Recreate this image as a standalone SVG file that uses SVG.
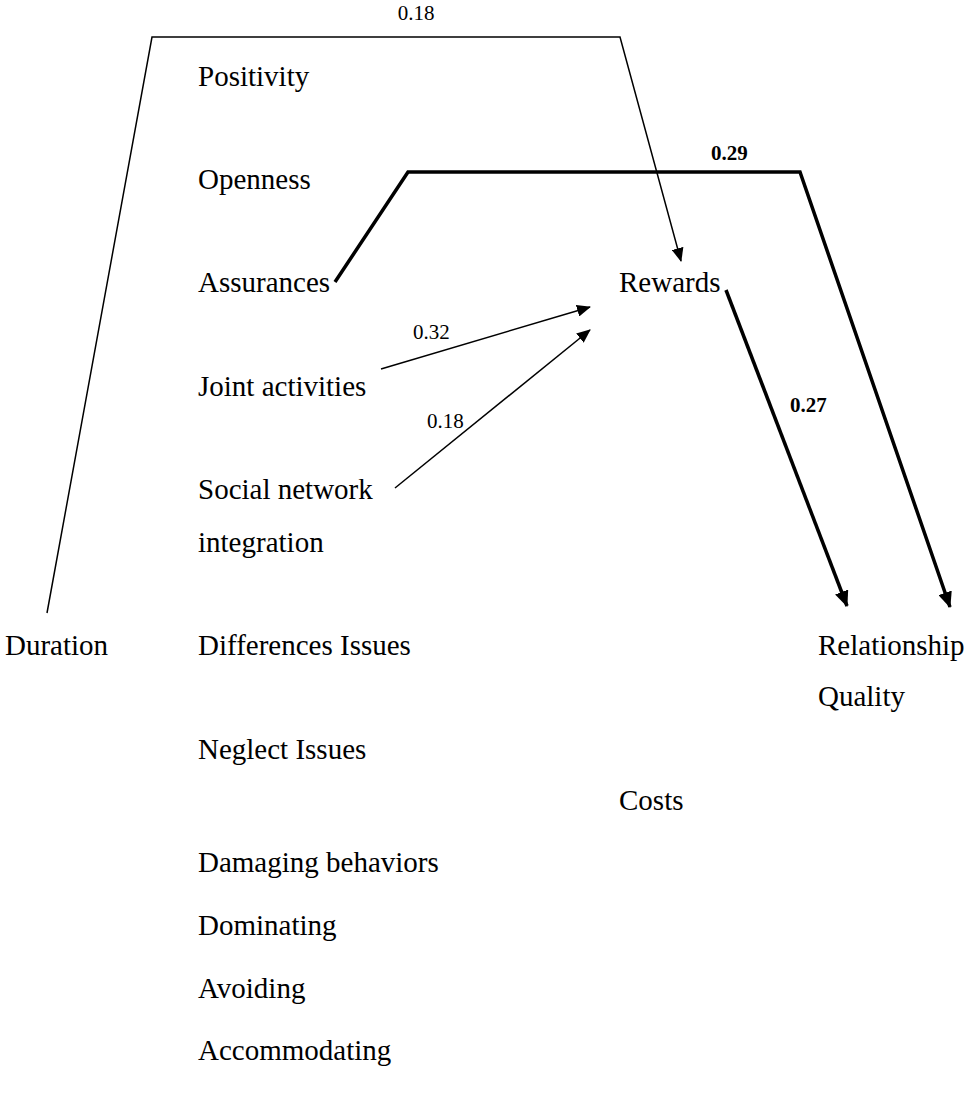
<svg xmlns="http://www.w3.org/2000/svg" width="964" height="1096" viewBox="0 0 964 1096">
<style>
.t{font-family:"Liberation Serif","Times New Roman",serif;font-size:29px;fill:#000}
.n{font-family:"Liberation Serif","Times New Roman",serif;font-size:21px;fill:#000}
.b{font-weight:bold}
.thin{fill:none;stroke:#000;stroke-width:1.5}
.thick{fill:none;stroke:#000;stroke-width:3.5}
</style>
<defs>
<marker id="ah" markerUnits="userSpaceOnUse" markerWidth="14" markerHeight="12" refX="13" refY="6" orient="auto">
<path d="M0,0 L14,6 L0,12 z" fill="#000"/>
</marker>
<marker id="ahb" markerUnits="userSpaceOnUse" markerWidth="16" markerHeight="14" refX="15" refY="7" orient="auto">
<path d="M0,0 L16,7 L0,14 z" fill="#000"/>
</marker>
</defs>
<rect width="964" height="1096" fill="#fff"/>
<g id="connectors">
<path class="thin" d="M47,613 L152,37 L620,37 L681,261" marker-end="url(#ah)"/>
<path class="thick" d="M335,282 L408,172 L800,172 L950,607" marker-end="url(#ahb)"/>
<path class="thick" d="M726,290 L847,606" marker-end="url(#ahb)"/>
<path class="thin" d="M381,369 L590,307" marker-end="url(#ah)"/>
<path class="thin" d="M395,488 L590,330" marker-end="url(#ah)"/>
<text class="n" x="416" y="20" text-anchor="middle">0.18</text>
<text class="n b" x="711" y="160">0.29</text>
<text class="n" x="413" y="339">0.32</text>
<text class="n" x="427" y="428">0.18</text>
<text class="n b" x="790" y="412">0.27</text>
</g>
<g id="positivity"><text class="t" x="198" y="86">Positivity</text></g>
<g id="openness"><text class="t" x="198" y="189">Openness</text></g>
<g id="assurances"><text class="t" x="198" y="292">Assurances</text></g>
<g id="rewards"><text class="t" x="619" y="292">Rewards</text></g>
<g id="joint-activities"><text class="t" x="198" y="396">Joint activities</text></g>
<g id="social-network"><text class="t" x="198" y="499">Social network</text><text class="t" x="198" y="552">integration</text></g>
<g id="duration"><text class="t" x="5" y="655">Duration</text></g>
<g id="differences-issues"><text class="t" x="198" y="655">Differences Issues</text></g>
<g id="relationship-quality"><text class="t" x="818" y="655">Relationship</text><text class="t" x="818" y="706">Quality</text></g>
<g id="neglect-issues"><text class="t" x="198" y="759">Neglect Issues</text></g>
<g id="costs"><text class="t" x="619" y="810">Costs</text></g>
<g id="damaging-behaviors"><text class="t" x="198" y="872">Damaging behaviors</text></g>
<g id="dominating"><text class="t" x="198" y="935">Dominating</text></g>
<g id="avoiding"><text class="t" x="198" y="998">Avoiding</text></g>
<g id="accommodating"><text class="t" x="198" y="1060">Accommodating</text></g>
</svg>
